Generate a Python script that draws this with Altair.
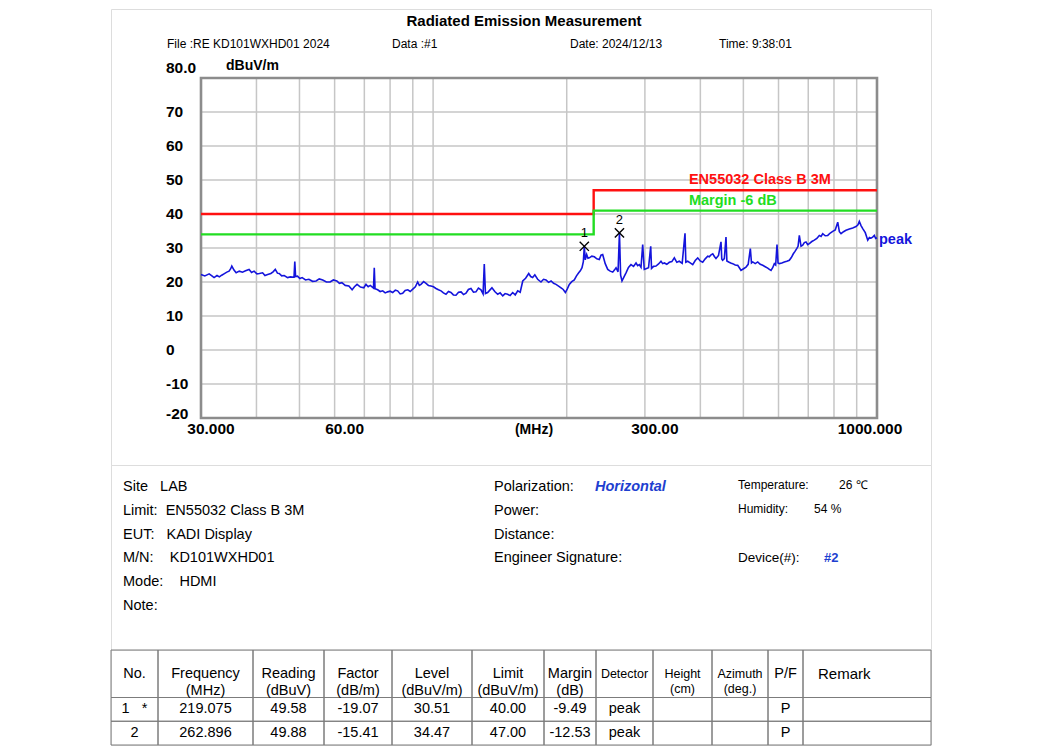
import altair as alt
import pandas as pd

FONT = "Liberation Sans"
GRID = "#c6c6c6"
FRAME = "#8c8c8c"
BOX = "#8c8c8c"
CELL = "#7c7c7c"
RED = "#ff1010"
GREEN = "#22dd22"
BLUE = "#1414dc"
INFO_BLUE = "#1e3fd0"

# ---------------- data ----------------
trace_freq = [
    30.0, 30.6, 31.3, 31.8, 32.1, 32.6, 33.0, 33.4, 33.8, 34.3, 34.7, 35.0, 35.2, 35.6, 36.0, 36.6, 37.2, 37.8, 38.5, 39.0,
    39.5, 40.1, 40.6, 41.3, 41.8, 42.4, 43.1, 43.6, 44.1, 44.6, 45.0, 45.6, 46.2, 47.0, 47.7, 48.6, 48.8, 49.0, 49.5, 50.1,
    50.7, 51.6, 52.5, 53.5, 54.5, 55.4, 56.4, 57.5, 58.6, 59.6, 60.7, 61.5, 62.3, 63.4, 64.6, 65.7, 66.5, 67.4, 68.6, 69.8,
    70.6, 71.4, 72.2, 73.4, 73.7, 74.0, 75.0, 76.0, 77.0, 78.0, 79.0, 80.0, 81.1, 82.2, 83.2, 84.3, 85.4, 86.5, 87.7, 88.8,
    90.0, 91.2, 92.3, 93.1, 93.9, 95.2, 96.4, 97.6, 98.9, 100.2, 101.5, 102.8, 104.2, 105.5, 106.9, 108.3, 109.7, 111.1, 112.6, 114.1,
    115.6, 117.1, 118.6, 120.1, 121.7, 123.3, 124.9, 126.5, 128.2, 129.6, 130.4, 131.2, 132.7, 134.2, 135.7, 137.7, 139.8, 141.6, 143.5, 145.3,
    147.2, 149.1, 151.1, 153.1, 155.1, 157.1, 159.2, 161.6, 164.2, 165.9, 167.6, 169.5, 172.0, 175.0, 177.3, 179.6, 182.0, 184.4, 186.8, 189.2,
    191.7, 194.2, 196.4, 198.6, 200.6, 202.7, 205.3, 208.0, 210.4, 212.8, 214.6, 216.5, 218.0, 219.1, 220.2, 221.8, 223.3, 224.9, 227.8, 230.8,
    233.8, 236.8, 238.9, 241.0, 244.2, 247.4, 250.6, 253.9, 256.1, 258.3, 261.0, 262.9, 264.5, 266.4, 269.2, 272.0, 275.5, 279.1, 282.8, 286.5,
    289.0, 291.4, 294.0, 296.6, 299.0, 301.7, 305.7, 309.2, 310.5, 313.8, 317.8, 322.0, 326.1, 329.0, 331.8, 336.1, 340.5, 345.0, 349.5, 354.0,
    358.6, 364.0, 369.4, 371.0, 374.6, 379.5, 384.5, 389.5, 394.6, 399.7, 404.9, 410.2, 415.6, 419.1, 422.8, 426.6, 430.2, 433.8, 439.5, 445.2,
    447.0, 449.0, 453.0, 456.9, 459.0, 463.3, 468.1, 473.0, 479.2, 485.5, 489.7, 493.9, 500.4, 506.9, 512.6, 518.4, 521.5, 524.9, 531.7, 538.6,
    545.7, 552.8, 560.0, 567.3, 572.2, 577.1, 582.1, 587.1, 591.2, 595.3, 598.5, 602.4, 610.3, 618.3, 626.4, 634.6, 641.2, 647.9, 653.6, 659.4,
    664.0, 668.4, 674.3, 680.2, 686.0, 691.9, 697.9, 703.9, 713.1, 722.4, 731.9, 741.4, 748.0, 754.6, 764.5, 774.4, 784.6, 794.8, 805.2, 815.7,
    822.7, 829.8, 840.6, 851.5, 866.5, 881.6, 897.0, 906.0, 912.4, 920.5, 928.7, 941.0, 953.1, 961.3, 969.5, 977.8, 986.2, 993.0, 1000.0,
]
trace_level = [
    22.2, 21.8, 22.4, 21.7, 21.3, 21.9, 21.5, 22.0, 22.4, 22.9, 23.2, 23.9, 24.7, 23.5, 22.7, 23.2, 22.9, 23.3, 23.7, 22.8,
    23.2, 22.4, 22.5, 22.7, 21.9, 22.2, 22.5, 23.0, 23.7, 22.6, 22.5, 21.8, 21.9, 21.3, 21.5, 21.4, 26.0, 21.6, 21.7, 21.0,
    21.3, 20.6, 20.8, 20.2, 20.3, 20.9, 20.6, 20.0, 20.0, 20.6, 20.3, 19.6, 19.8, 19.0, 18.8, 17.7, 18.6, 19.3, 18.5, 18.3,
    19.3, 18.6, 19.0, 18.2, 24.2, 18.0, 17.7, 17.2, 17.4, 16.8, 17.1, 17.3, 16.9, 17.6, 17.4, 16.5, 16.7, 17.5, 17.7, 17.2,
    17.9, 18.6, 20.0, 19.0, 19.3, 20.1, 19.6, 19.0, 18.8, 18.6, 18.1, 17.7, 17.4, 16.8, 16.4, 17.2, 16.9, 16.2, 16.1, 17.0,
    17.1, 16.3, 16.7, 17.8, 18.1, 17.0, 17.1, 18.2, 17.7, 16.5, 25.3, 16.6, 16.9, 17.6, 18.3, 17.2, 16.4, 16.8, 15.9, 16.6,
    16.4, 16.0, 16.9, 16.2, 17.4, 17.0, 20.3, 21.1, 22.5, 21.6, 21.3, 22.1, 20.8, 20.0, 20.8, 20.6, 19.9, 20.3, 19.6, 19.3,
    18.8, 18.3, 17.8, 16.9, 18.0, 19.3, 20.1, 20.6, 21.8, 22.7, 23.3, 24.2, 26.0, 30.5, 26.5, 28.1, 27.0, 27.1, 27.6, 27.4,
    26.8, 26.6, 27.9, 28.1, 25.4, 23.7, 23.2, 22.9, 23.5, 24.2, 23.0, 34.5, 22.0, 20.3, 21.5, 22.7, 24.3, 25.1, 24.6, 25.6,
    24.8, 25.1, 24.3, 31.0, 23.7, 23.9, 24.2, 30.5, 24.0, 24.6, 24.7, 25.3, 26.1, 25.4, 25.6, 25.2, 25.8, 26.0, 27.1, 25.8,
    26.1, 25.5, 34.3, 25.8, 26.1, 25.6, 25.1, 26.3, 27.1, 26.2, 25.8, 26.8, 27.6, 27.4, 28.0, 28.3, 27.5, 26.9, 27.8, 31.8,
    26.8, 26.4, 26.9, 33.2, 26.2, 25.9, 25.6, 25.4, 25.0, 24.9, 24.2, 23.4, 23.9, 24.4, 25.2, 29.8, 25.6, 25.9, 25.4, 25.9,
    25.2, 24.9, 24.5, 24.1, 23.7, 23.4, 24.2, 25.4, 25.0, 31.0, 25.6, 25.4, 25.6, 25.9, 26.1, 26.4, 27.2, 28.3, 29.0, 29.8,
    30.5, 33.7, 30.5, 30.8, 31.6, 31.8, 31.0, 31.3, 31.9, 32.3, 32.8, 33.7, 33.4, 34.2, 33.6, 33.7, 34.4, 34.9, 35.3, 37.6,
    34.8, 34.2, 34.8, 35.2, 35.6, 35.9, 36.3, 36.8, 37.8, 36.6, 35.7, 34.5, 32.3, 33.1, 32.9, 33.2, 33.7, 32.8, 33.0,
]

limit_freq = [30, 230, 230, 1000]
limit_level = [40, 40, 47, 47]
margin_level = [34, 34, 41, 41]

marker_no = ["1", "2"]
marker_freq = [219.075, 262.896]
marker_level = [30.51, 34.47]

y_ticks = [80, 70, 60, 50, 40, 30, 20, 10, 0, -10, -20]
y_tick_labels = ["80.0", "70", "60", "50", "40", "30", "20", "10", "0", "-10", "-20"]
x_grid = [40, 50, 60, 70, 80, 90, 100, 200, 300, 400, 500, 600, 700, 800, 900]
x_tick_values = [30, 60, 300, 1000]
x_tick_labels = ["30.000", "60.00", "300.00", "1000.000"]

title_text = "Radiated Emission Measurement"
header_items = ["File :RE KD101WXHD01 2024", "Data :#1", "Date: 2024/12/13", "Time: 9:38:01"]
limit_name = "EN55032 Class B 3M"
margin_name = "Margin -6 dB"
label_freq = 377
label_levels = [50.0, 43.8]
trace_name = "peak"
y_unit = "dBuV/m"
x_unit = "(MHz)"

info_left_labels = ["Site", "Limit:", "EUT:", "M/N:", "Mode:", "Note:"]
info_left_values = ["LAB", "EN55032 Class B 3M", "KADI Display", "KD101WXHD01", "HDMI", ""]
info_mid_labels = ["Polarization:", "Power:", "Distance:", "Engineer Signature:"]
info_mid_values = ["Horizontal", "", "", ""]
info_right_labels = ["Temperature:", "Humidity:", "Device(#):"]
info_right_values = ["26 ℃", "54 %", "#2"]

table_headers = ["No.", "Frequency\n(MHz)", "Reading\n(dBuV)", "Factor\n(dB/m)", "Level\n(dBuV/m)",
                 "Limit\n(dBuV/m)", "Margin\n(dB)", "Detector", "Height\n(cm)", "Azimuth\n(deg.)", "P/F", "Remark"]
table_row1 = ["1\u00a0\u00a0\u00a0*", "219.075", "49.58", "-19.07", "30.51", "40.00", "-9.49", "peak", "", "", "P", ""]
table_row2 = ["2", "262.896", "49.88", "-15.41", "34.47", "47.00", "-12.53", "peak", "", "", "P", ""]

# ---------------- layout ----------------
W = 820
HA, HB, HC = 456, 185, 95
col_widths = [47, 95, 71, 68, 80, 72, 52, 57, 59, 56, 35, 128]
small_header_cols = [7, 8, 9]
left_gaps = [3, 2, 3, 4, 4, 3]

xs = alt.Scale(type="log", domain=[30, 1000], range=[90, 766], nice=False)
ys = alt.Scale(domain=[-20, 80], range=[409, 69], nice=False, zero=False)


def qx(f):
    return alt.X(f, type="quantitative", scale=xs, axis=None)


def qy(f):
    return alt.Y(f, type="quantitative", scale=ys, axis=None)


def txt(**kw):
    base = dict(font=FONT, color="black", align="left", baseline="middle")
    base.update(kw)
    return base


# ---------- chart A: plot ----------
vg = pd.DataFrame({"f": x_grid, "lo": -20, "hi": 80})
hg = pd.DataFrame({"v": y_ticks[1:-1], "a": 30, "b": 1000})
vgrid = alt.Chart(vg).mark_rule(color=GRID, strokeWidth=1.5).encode(x=qx("f"), y=qy("lo"), y2="hi")
hgrid = alt.Chart(hg).mark_rule(color=GRID, strokeWidth=1.5).encode(y=qy("v"), x=qx("a"), x2="b")
frame = alt.Chart(pd.DataFrame({"a": [30], "b": [1000], "lo": [-20], "hi": [80]})).mark_rect(
    fillOpacity=0, stroke=FRAME, strokeWidth=2.6).encode(x=qx("a"), x2="b", y=qy("lo"), y2="hi")

lim = pd.DataFrame({"f": limit_freq, "lim": limit_level, "mar": margin_level, "i": range(len(limit_freq))})
lim_line = alt.Chart(lim).mark_line(color=RED, strokeWidth=2.4).encode(x=qx("f"), y=qy("lim"), order="i:Q")
mar_line = alt.Chart(lim).mark_line(color=GREEN, strokeWidth=2.4).encode(x=qx("f"), y=qy("mar"), order="i:Q")

tr = pd.DataFrame({"f": trace_freq, "v": trace_level, "i": range(len(trace_freq))})
trace = alt.Chart(tr).mark_line(color=BLUE, strokeWidth=1.6).encode(x=qx("f"), y=qy("v"), order="i:Q")

mk = pd.DataFrame({"no": marker_no, "f": marker_freq, "v": marker_level})
marks = alt.Chart(mk).mark_point(shape="M-1,-1L1,1M-1,1L1,-1", size=85, color="black",
                                 strokeWidth=1.4, filled=False, opacity=1).encode(x=qx("f"), y=qy("v"))
mark_lbl = alt.Chart(mk).mark_text(**txt(align="center", fontSize=13, dy=-13)).encode(
    x=qx("f"), y=qy("v"), text="no:N")

lab = pd.DataFrame({"t": [limit_name, margin_name], "f": label_freq, "v": label_levels, "c": ["l", "m"]})
lim_lbl = alt.Chart(lab).mark_text(**txt(fontSize=14.5, fontWeight="bold")).encode(
    x=qx("f"), y=qy("v"), text="t:N",
    color=alt.Color("c:N", scale=alt.Scale(domain=["l", "m"], range=[RED, GREEN]), legend=None))

peak_lbl = alt.Chart(pd.DataFrame({"t": [trace_name], "f": [trace_freq[-1]], "v": [trace_level[-1]]})).mark_text(
    **txt(fontSize=14.5, fontWeight="bold", color=BLUE, dx=2, dy=2)).encode(x=qx("f"), y=qy("v"), text="t:N")

yt = pd.DataFrame({"v": y_ticks, "t": y_tick_labels, "f": 30})
ylab_style = dict(fontSize=15.5, fontWeight="bold", dx=-35)
ylab_mid = alt.Chart(yt.iloc[1:-1]).mark_text(**txt(**ylab_style)).encode(x=qx("f"), y=qy("v"), text="t:N")
ylab_top = alt.Chart(yt.iloc[:1]).mark_text(**txt(dy=-10, **ylab_style)).encode(x=qx("f"), y=qy("v"), text="t:N")
ylab_bot = alt.Chart(yt.iloc[-1:]).mark_text(**txt(dy=-4.5, **ylab_style)).encode(x=qx("f"), y=qy("v"), text="t:N")

xt = pd.DataFrame({"f": x_tick_values, "t": x_tick_labels, "v": -20})
xlab_a = alt.Chart(xt.iloc[:-1]).mark_text(**txt(align="center", fontSize=15.5, fontWeight="bold", dx=10, dy=11)).encode(
    x=qx("f"), y=qy("v"), text="t:N")
xlab_b = alt.Chart(xt.iloc[-1:]).mark_text(**txt(align="center", fontSize=15.5, fontWeight="bold", dx=-7, dy=11)).encode(
    x=qx("f"), y=qy("v"), text="t:N")

unit_y = alt.Chart(pd.DataFrame({"t": [y_unit], "f": [30], "v": [80]})).mark_text(
    **txt(fontSize=14, fontWeight="bold", dx=25, dy=-12)).encode(x=qx("f"), y=qy("v"), text="t:N")
unit_x = alt.Chart(pd.DataFrame({"t": [x_unit]})).mark_text(
    **txt(align="center", fontSize=14, fontWeight="bold")).encode(x=alt.value(423), y=alt.value(420.5), text="t:N")

title = alt.Chart(pd.DataFrame({"t": [title_text]})).mark_text(
    **txt(align="center", fontSize=15, fontWeight="bold")).encode(x=alt.value(413), y=alt.value(12), text="t:N")
head_x = [56, 281, 459, 608]
heads = [alt.Chart(pd.DataFrame({"t": [h]})).mark_text(**txt(fontSize=12)).encode(
    x=alt.value(hx), y=alt.value(35), text="t:N") for h, hx in zip(header_items, head_x)]

top = alt.layer(vgrid, hgrid, frame, lim_line, mar_line, trace, marks, mark_lbl, lim_lbl, peak_lbl,
                ylab_mid, ylab_top, ylab_bot, xlab_a, xlab_b, unit_y, unit_x, title, *heads).properties(
    width=W, height=HA)

# ---------- chart B: info ----------
rs = alt.Scale(domain=[0, 5], range=[22, 141])


def ry():
    return alt.Y("row:Q", scale=rs, axis=None)


left_df = pd.DataFrame({"row": range(6), "t": [l + "\u00a0" * g + v for l, g, v in
                                               zip(info_left_labels, left_gaps, info_left_values)]})
left_txt = alt.Chart(left_df).mark_text(**txt(fontSize=14.5)).encode(x=alt.value(12), y=ry(), text="t:N")
mid_df = pd.DataFrame({"row": range(4), "t": info_mid_labels, "v": info_mid_values})
mid_txt = alt.Chart(mid_df).mark_text(**txt(fontSize=14.5)).encode(x=alt.value(383), y=ry(), text="t:N")
mid_val = alt.Chart(mid_df.iloc[:1]).mark_text(**txt(fontSize=14.5, fontWeight="bold", fontStyle="italic",
                                                      color=INFO_BLUE)).encode(x=alt.value(484), y=ry(), text="v:N")
right_df = pd.DataFrame({"row": [0, 1, 3], "t": info_right_labels, "v": info_right_values})
right_a = alt.Chart(right_df.iloc[:2]).mark_text(**txt(fontSize=12, dy=-2)).encode(x=alt.value(627), y=ry(), text="t:N")
right_b = alt.Chart(right_df.iloc[2:]).mark_text(**txt(fontSize=13.5)).encode(x=alt.value(627), y=ry(), text="t:N")
rv_x = [728, 703]
right_vals = [alt.Chart(right_df.iloc[i:i + 1]).mark_text(**txt(fontSize=12, dy=-2)).encode(
    x=alt.value(rv_x[i]), y=ry(), text="v:N") for i in range(2)]
dev_val = alt.Chart(right_df.iloc[2:]).mark_text(**txt(fontSize=13, fontWeight="bold", color=INFO_BLUE)).encode(
    x=alt.value(713), y=ry(), text="v:N")

mid = alt.layer(left_txt, mid_txt, mid_val, right_a, right_b, *right_vals, dev_val).properties(width=W, height=HB)

# ---------- chart C: table ----------
edges = [0]
for w in col_widths:
    edges.append(edges[-1] + w)
txs = alt.Scale(domain=[0, edges[-1]], range=[0, W])
tys = alt.Scale(domain=[0, 4], range=[0, HC])
row_bounds = [(0, 2), (2, 3), (3, 4)]
cells = pd.DataFrame([{"x0": edges[c], "x1": edges[c + 1], "y0": y0, "y1": y1}
                      for (y0, y1) in row_bounds for c in range(len(col_widths))])
cell_mark = alt.Chart(cells).mark_rect(fillOpacity=0, stroke=CELL, strokeWidth=1).encode(
    x=alt.X("x0:Q", scale=txs, axis=None), x2="x1", y=alt.Y("y0:Q", scale=tys, axis=None), y2="y1")

hd = pd.DataFrame({"t": table_headers, "cx": [(edges[i] + edges[i + 1]) / 2 for i in range(12)],
                   "x0": edges[:-1], "y": 1, "c": range(12)})
tx = alt.X("cx:Q", scale=txs, axis=None)
tyy = alt.Y("y:Q", scale=tys, axis=None)
big_cols = [i for i in range(11) if i not in small_header_cols]
hd_big = alt.Chart(hd.iloc[big_cols]).mark_text(**txt(align="center", fontSize=14.5, lineBreak="\n",
                                                      lineHeight=17)).encode(x=tx, y=tyy, text="t:N")
hd_small = alt.Chart(hd.iloc[small_header_cols]).mark_text(**txt(align="center", fontSize=12.5, lineBreak="\n",
                                                                 lineHeight=15)).encode(x=tx, y=tyy, text="t:N")
hd_rem = alt.Chart(hd.iloc[11:]).mark_text(**txt(fontSize=15, dx=15)).encode(
    x=alt.X("x0:Q", scale=txs, axis=None), y=tyy, text="t:N")

rows = pd.DataFrame({"t": table_row1 + table_row2,
                     "cx": [(edges[i] + edges[i + 1]) / 2 for i in range(12)] * 2,
                     "y": [2.5] * 12 + [3.5] * 12})
row_txt = alt.Chart(rows).mark_text(**txt(align="center", fontSize=14.5)).encode(x=tx, y=tyy, text="t:N")

bot = alt.layer(cell_mark, hd_big, hd_small, hd_rem, row_txt).properties(width=W, height=HC)

chart = alt.vconcat(top, mid, bot, spacing=0, bounds="flush").properties(
    padding={"left": 102, "top": 0, "right": 5, "bottom": 0}
).configure_view(stroke=BOX, strokeWidth=1.2).configure(font=FONT)

chart.save("out.html", embed_options={"renderer": "svg", "actions": False})
